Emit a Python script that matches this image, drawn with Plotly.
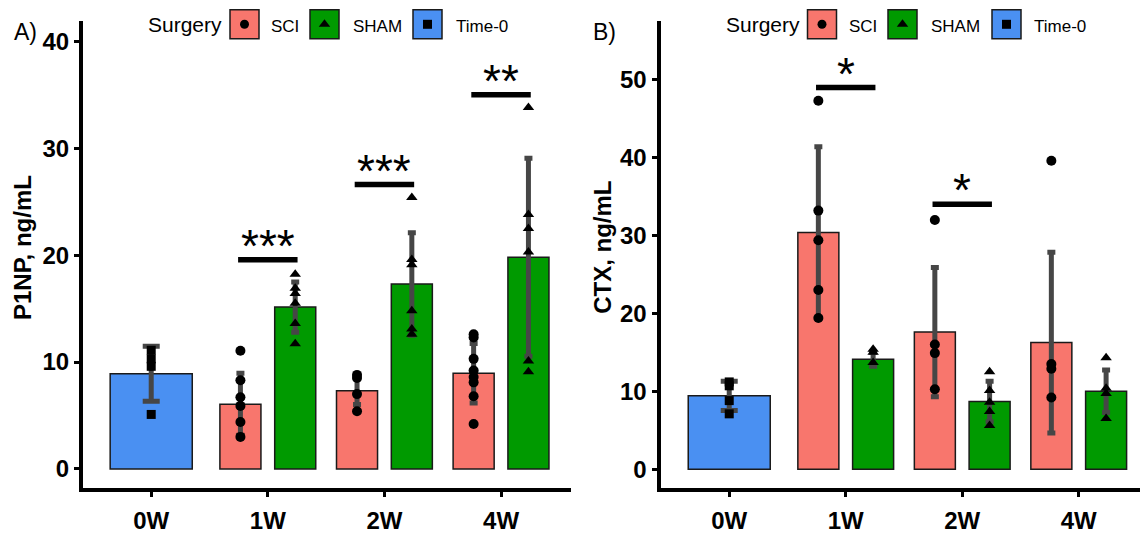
import plotly.graph_objects as go

W, H = 1140, 534

# ---------------- data ----------------
weeks = ["0W", "1W", "2W", "4W"]
surgery_weeks = ["1W", "2W", "4W"]

# Panel A: P1NP, ng/mL
p1np_time0_mean = 8.9
p1np_time0_sd = 2.57
p1np_time0_points = [11.1, 10.3, 9.6, 5.1]
p1np_sci_mean = [6.05, 7.32, 8.95]
p1np_sci_sd = [2.9, 1.3, 2.78]
p1np_sham_mean = [15.14, 17.3, 19.8]
p1np_sham_sd = [2.35, 4.8, 9.25]
p1np_sci_points = [[11.05, 8.3, 6.7, 5.9, 4.4, 3.0],
                   [8.8, 8.5, 7.0, 5.4],
                   [12.6, 12.3, 10.3, 9.2, 8.6, 8.1, 6.8, 4.2]]
p1np_sham_points = [[18.2, 16.9, 16.4, 15.5, 13.6, 11.7],
                    [25.4, 19.6, 19.1, 14.8, 13.1, 12.6],
                    [33.8, 23.8, 22.5, 20.3, 10.1, 9.1]]
p1np_sig_weeks = ["1W", "2W", "4W"]
p1np_sig_y = [19.56, 26.6, 35.0]
p1np_sig_labels = ["***", "***", "**"]

# Panel B: CTX, ng/mL
ctx_time0_mean = 9.42
ctx_time0_sd = 1.88
ctx_time0_points = [11.2, 10.7, 8.8, 7.1]
ctx_sci_mean = [30.4, 17.6, 16.25]
ctx_sci_sd = [11.0, 8.3, 11.6]
ctx_sham_mean = [14.1, 8.67, 10.0]
ctx_sham_sd = [0.9, 2.6, 2.72]
ctx_sci_points = [[47.3, 33.2, 29.4, 23.0, 19.4],
                  [32.0, 16.0, 14.9, 10.25],
                  [39.6, 13.5, 12.9, 9.2]]
ctx_sham_points = [[15.4, 15.0, 13.7],
                   [12.5, 10.1, 8.6, 7.4, 5.6],
                   [14.3, 10.4, 9.7, 6.5]]
ctx_sig_weeks = ["1W", "2W"]
ctx_sig_y = [49.0, 34.0]
ctx_sig_labels = ["*", "*"]

# ---------------- style ----------------
FONT = "Liberation Sans, Arial, sans-serif"
C_SCI = "#F8766D"
C_SHAM = "#009A00"
C_T0 = "#4A90F2"
ERR_C = "#464646"
DODGE = 0.235
BW_PAIR = 0.352
BW_SINGLE = 0.704


def px(x):
    return x / W


def py(y):
    return 1 - y / H


fig = go.Figure()
idx = {w: i for i, w in enumerate(weeks)}


def add_panel(xa, ya, t0_mean, t0_sd, t0_pts, sci_m, sci_sd, sham_m, sham_sd,
              sci_pts, sham_pts):
    sx = [idx[w] for w in surgery_weeks]
    bar_line = dict(color="#1a1a1a", width=1.5)
    fig.add_trace(go.Bar(x=[idx["0W"]], y=[t0_mean], width=BW_SINGLE,
                         marker=dict(color=C_T0, line=bar_line),
                         error_y=dict(type="data", array=[t0_sd], color=ERR_C,
                                      thickness=5, width=8.5),
                         xaxis=xa, yaxis=ya, showlegend=False))
    fig.add_trace(go.Bar(x=[i - DODGE for i in sx], y=sci_m, width=BW_PAIR,
                         marker=dict(color=C_SCI, line=bar_line),
                         error_y=dict(type="data", array=sci_sd, color=ERR_C,
                                      thickness=5, width=4),
                         xaxis=xa, yaxis=ya, showlegend=False))
    fig.add_trace(go.Bar(x=[i + DODGE for i in sx], y=sham_m, width=BW_PAIR,
                         marker=dict(color=C_SHAM, line=bar_line),
                         error_y=dict(type="data", array=sham_sd, color=ERR_C,
                                      thickness=5, width=4),
                         xaxis=xa, yaxis=ya, showlegend=False))
    # points
    fig.add_trace(go.Scatter(x=[idx["0W"]] * len(t0_pts), y=t0_pts, mode="markers",
                             marker=dict(symbol="square", size=9, color="black"),
                             xaxis=xa, yaxis=ya, showlegend=False, cliponaxis=False))
    xs, ys = [], []
    for i, pts in zip(sx, sci_pts):
        xs += [i - DODGE] * len(pts)
        ys += pts
    fig.add_trace(go.Scatter(x=xs, y=ys, mode="markers",
                             marker=dict(symbol="circle", size=10, color="black"),
                             xaxis=xa, yaxis=ya, showlegend=False, cliponaxis=False))
    xs, ys = [], []
    for i, pts in zip(sx, sham_pts):
        xs += [i + DODGE] * len(pts)
        ys += pts
    fig.add_trace(go.Scatter(x=xs, y=ys, mode="markers",
                             marker=dict(symbol="triangle-up", size=10, color="black"),
                             xaxis=xa, yaxis=ya, showlegend=False, cliponaxis=False))


add_panel("x", "y", p1np_time0_mean, p1np_time0_sd, p1np_time0_points,
          p1np_sci_mean, p1np_sci_sd, p1np_sham_mean, p1np_sham_sd,
          p1np_sci_points, p1np_sham_points)
add_panel("x2", "y2", ctx_time0_mean, ctx_time0_sd, ctx_time0_points,
          ctx_sci_mean, ctx_sci_sd, ctx_sham_mean, ctx_sham_sd,
          ctx_sci_points, ctx_sham_points)

shapes = []
annotations = []


def add_sig(xref, yref, sig_weeks, sig_y, labels):
    for w, yv, lab in zip(sig_weeks, sig_y, labels):
        i = idx[w]
        shapes.append(dict(type="line", xref=xref, yref=yref, x0=i - 0.255, x1=i + 0.255,
                           y0=yv, y1=yv, line=dict(color="black", width=5.5)))
        annotations.append(dict(xref=xref, yref=yref, x=i, y=yv, text=lab,
                                showarrow=False, xanchor="center", yanchor="middle",
                                yshift=14, font=dict(family=FONT, size=46, color="black")))


add_sig("x", "y", p1np_sig_weeks, p1np_sig_y, p1np_sig_labels)
add_sig("x2", "y2", ctx_sig_weeks, ctx_sig_y, ctx_sig_labels)

# panel labels and axis titles
for txt, xpix in [("A)", 12), ("B)", 591)]:
    annotations.append(dict(xref="paper", yref="paper", x=px(xpix), y=py(17.5), text=txt,
                            showarrow=False, xanchor="left", yanchor="top",
                            font=dict(family=FONT, size=23, color="black")))
for txt, xpix in [("P1NP, ng/mL", 23.2), ("CTX, ng/mL", 603)]:
    annotations.append(dict(xref="paper", yref="paper", x=px(xpix), y=py(255), text=txt,
                            showarrow=False, xanchor="center", yanchor="middle",
                            textangle=-90,
                            font=dict(family=FONT, size=24, color="black", weight="bold")))

# legends (one above each panel)
legend_items = [("SCI", C_SCI, "circle", 9), ("SHAM", C_SHAM, "triangle-up", 10),
                ("Time-0", C_T0, "square", 9)]
title_x = [146.7, 724.5]
box_x = [[244.5, 324.5, 427.5], [822.0, 902.5, 1006.5]]
lab_x = [[270, 352, 455], [848, 930, 1033]]
for p in range(2):
    annotations.append(dict(xref="paper", yref="paper", x=px(title_x[p] - 1), y=py(25.7),
                            text="Surgery", showarrow=False, xanchor="left",
                            yanchor="middle", font=dict(family=FONT, size=21, color="black")))
    for (lab, col, sym, sz), bx, lx in zip(legend_items, box_x[p], lab_x[p]):
        fig.add_trace(go.Scatter(x=[bx], y=[25], mode="markers", xaxis="x3", yaxis="y3",
                                 marker=dict(symbol="square", size=29, color=col,
                                             line=dict(color="#1a1a1a", width=1.5)),
                                 showlegend=False, hoverinfo="skip", cliponaxis=False))
        fig.add_trace(go.Scatter(x=[bx], y=[25], mode="markers", xaxis="x3", yaxis="y3",
                                 marker=dict(symbol=sym, size=sz, color="black"),
                                 showlegend=False, hoverinfo="skip", cliponaxis=False))
        annotations.append(dict(xref="paper", yref="paper", x=px(lx - 1), y=py(27.1),
                                text=lab, showarrow=False, xanchor="left", yanchor="middle",
                                font=dict(family=FONT, size=17, color="black")))

axis_common = dict(showline=True, linewidth=4, linecolor="black", ticks="outside",
                   ticklen=5, tickwidth=2.5, tickcolor="black", showgrid=False,
                   zeroline=False, fixedrange=True,
                   tickfont=dict(family=FONT, size=24, color="black", weight="bold"))
ydom = [py(502), py(22)]

fig.update_layout(
    width=W, height=H,
    margin=dict(l=0, r=0, t=0, b=0),
    paper_bgcolor="white", plot_bgcolor="rgba(0,0,0,0)",
    barmode="overlay",
    showlegend=False,
    font=dict(family=FONT, color="black"),
    xaxis=dict(domain=[px(83), px(571)], range=[-0.585, 3.6], ticklabelstandoff=3,
               tickvals=list(range(len(weeks))), ticktext=weeks, anchor="y", **axis_common),
    yaxis=dict(domain=ydom, range=[-1.77, 41.86], tickvals=[0, 10, 20, 30, 40],
               anchor="x", **axis_common),
    xaxis2=dict(domain=[px(660.5), 1.0], range=[-0.59, 3.526], ticklabelstandoff=3,
                tickvals=list(range(len(weeks))), ticktext=weeks, anchor="y2", **axis_common),
    yaxis2=dict(domain=ydom, range=[-2.41, 57.5], tickvals=[0, 10, 20, 30, 40, 50],
                anchor="x2", **axis_common),
    xaxis3=dict(domain=[0, 1], range=[0, W], visible=False, fixedrange=True, anchor="y3"),
    yaxis3=dict(domain=[0, 1], range=[H, 0], visible=False, fixedrange=True, anchor="x3"),
    shapes=shapes,
    annotations=annotations,
)

fig.write_html("out.html", config={"displayModeBar": False},
               post_script="document.body.style.margin='0';document.body.style.overflow='hidden';")
